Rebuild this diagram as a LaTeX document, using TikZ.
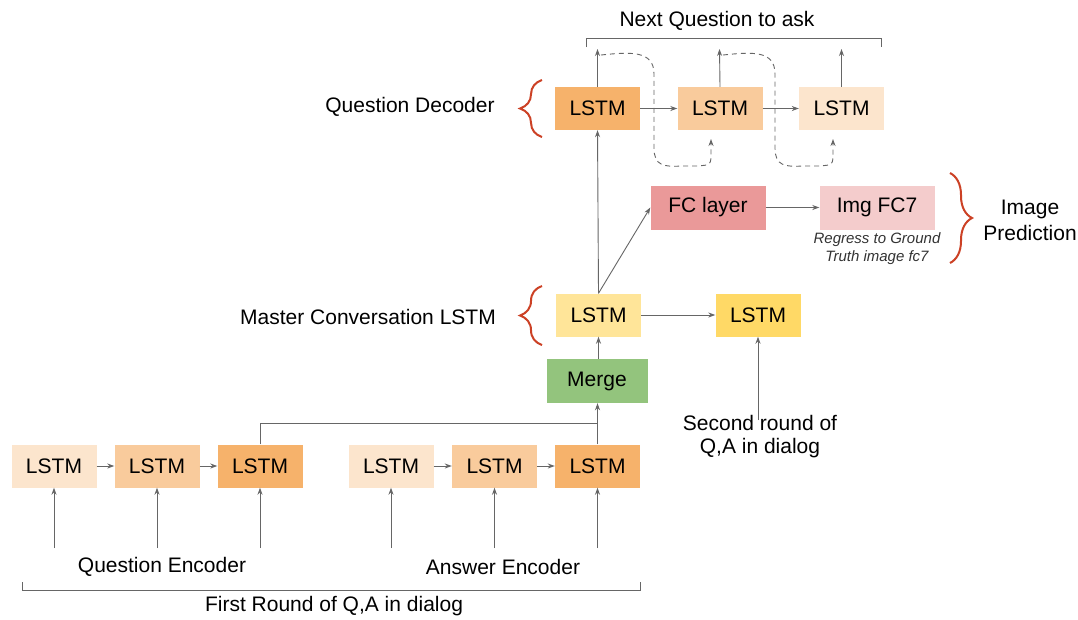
\documentclass[tikz,border=0pt]{standalone}
\usepackage{fontspec}
\setmainfont{Liberation Sans}
\usetikzlibrary{arrows.meta,decorations.pathreplacing}
\definecolor{orA}{HTML}{F6B26B}
\definecolor{orB}{HTML}{F9CB9C}
\definecolor{orC}{HTML}{FCE5CD}
\definecolor{fcA}{HTML}{EA9999}
\definecolor{fcB}{HTML}{F4CCCC}
\definecolor{yeA}{HTML}{FFE599}
\definecolor{yeB}{HTML}{FFD966}
\definecolor{grM}{HTML}{93C47D}
\definecolor{brRed}{HTML}{CC4125}
\definecolor{ln}{HTML}{666666}
\begin{document}
\begin{tikzpicture}[x=1pt,y=-1pt,
  box/.style={minimum width=85pt,minimum height=43pt,inner sep=0pt,font=\fontsize{21}{25}\selectfont},
  lbl/.style={inner sep=0pt,font=\fontsize{21}{26}\selectfont,align=center},
  note/.style={inner sep=0pt,font=\fontsize{15}{18}\selectfont\itshape,text=black!80,align=center},
  arr/.style={draw=ln,line width=0.9pt,-{Stealth[length=7pt,width=5pt]}},
  plain/.style={draw=ln,line width=0.9pt},
  dsh/.style={draw=ln,line width=0.9pt,dash pattern=on 5pt off 4pt,-{Stealth[length=7pt,width=5pt]}},
  brc/.style={draw=brRed,line width=2pt,decorate,decoration={brace,amplitude=22pt}}]
\fill[white] (0,0) rectangle (1078,619);
% decoder
\node[box,fill=orA] (d1) at (597.5,108.5) {LSTM};
\node[box,fill=orB] (d2) at (720,108.5) {LSTM};
\node[box,fill=orC] (d3) at (841.5,108.5) {LSTM};
\coordinate (o1) at (597.5,49);
\coordinate (o2) at (719.5,49);
\coordinate (o3) at (841.5,49);
\draw[arr] (d1) -- (d2);
\draw[arr] (d2) -- (d3);
\draw[arr] (d1.north) -- (o1);
\draw[arr] (d2.north) -- (o2);
\draw[arr] (d3.north) -- (o3);
\coordinate (t2) at (711,139);
\coordinate (t3) at (833,139);
\draw[dsh] (601,55) .. controls (630,52) and (654,50) .. (654,74) -- (654,148)
  .. controls (654,166) and (664,167) .. (682,166) -- (697,166)
  .. controls (711,165) .. (711,152) -- (t2);
\draw[dsh] (723,55) .. controls (752,52) and (775,50) .. (775,74) -- (775,148)
  .. controls (775,166) and (785,167) .. (803,166) -- (819,166)
  .. controls (833,165) .. (833,152) -- (t3);
\node[lbl] (nq) at (717,21) {Next Question to ask};
\coordinate (b1) at (586,47);
\coordinate (b2) at (881,47);
\draw[plain] (b1) -- (586,38) -- (881,38) -- (b2);
\draw[brc] (542,137) -- (542,80);
\node[lbl] (qd) at (410,107) {Question Decoder};
% FC
\node[box,fill=fcA,minimum width=115pt,minimum height=44pt] (fc) at (708,207.5) {FC layer};
\node[box,fill=fcB,minimum width=115pt,minimum height=44pt] (img) at (877,207.5) {Img FC7};
\draw[arr] (fc) -- (img);
\node[note] (reg) at (877,249) {Regress to Ground\\Truth image fc7};
\draw[brc] (950,173) -- (950,263);
\node[lbl] (ip) at (1030,220) {Image\\Prediction};
% master
\node[box,fill=yeA] (m1) at (598.5,315) {LSTM};
\node[box,fill=yeB] (m2) at (758,315) {LSTM};
\draw[arr] (m1) -- (m2);
\draw[arr] (m1.north) -- (d1.south);
\draw[arr] (m1.north) -- (fc.west);
\draw[brc] (542,345) -- (542,286);
\node[lbl] (mc) at (368,317) {Master Conversation LSTM};
\node[box,fill=grM,minimum width=101pt,minimum height=44pt] (mg) at (597,381) {Merge};
\draw[arr] (mg.north -| m1) -- (m1.south);
\coordinate (s2) at (758,420);
\draw[arr] (s2) -- (m2.south);
\node[lbl,font=\fontsize{21}{23}\selectfont] (sr) at (760,437) {Second round of\\Q,A in dialog};
% encoders
\node[box,fill=orC] (q1) at (54,466) {LSTM};
\node[box,fill=orB] (q2) at (157,466) {LSTM};
\node[box,fill=orA] (q3) at (260,466) {LSTM};
\node[box,fill=orC] (a1) at (391,466) {LSTM};
\node[box,fill=orB] (a2) at (494.5,466) {LSTM};
\node[box,fill=orA] (a3) at (597.5,466) {LSTM};
\draw[arr] (q1) -- (q2);
\draw[arr] (q2) -- (q3);
\draw[arr] (a1) -- (a2);
\draw[arr] (a2) -- (a3);
\foreach \n/\x in {q1/54,q2/157,q3/260,a1/391,a2/494.5,a3/597.5}{
  \coordinate (in\n) at (\x,548);
  \draw[arr] (in\n) -- (\n.south);
}
\coordinate (jn) at (597.5,423);
\draw[plain] (q3.north) |- (jn);
\draw[arr] (a3.north) -- (a3.north |- mg.south);
\node[lbl] (qe) at (162,567) {Question Encoder};
\node[lbl] (ae) at (503,567) {Answer Encoder};
\draw[plain] (22,582) -- (22,590) -- (640,590) -- (640,582);
\node[lbl] (fr) at (334,606) {First Round of Q,A in dialog};
\end{tikzpicture}
\end{document}
